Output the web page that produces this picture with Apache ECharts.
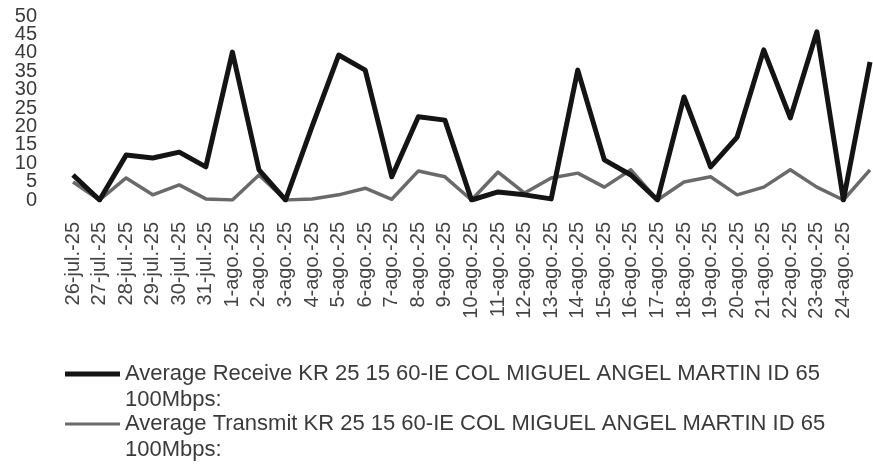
<!DOCTYPE html>
<html>
<head>
<meta charset="utf-8">
<title>Average Receive / Transmit</title>
<script src="https://cdn.jsdelivr.net/npm/echarts@6/dist/echarts.min.js"></script>
<style>
  html, body { margin: 0; padding: 0; background: #fff; }
  #chart { width: 873px; height: 473px; }
</style>
</head>
<body>
<div id="chart"></div>
<script>
// Daily dates (the last sample has no printed label)
const categories = [
  '26-jul.-25', '27-jul.-25', '28-jul.-25', '29-jul.-25', '30-jul.-25', '31-jul.-25',
  '1-ago.-25', '2-ago.-25', '3-ago.-25', '4-ago.-25', '5-ago.-25', '6-ago.-25',
  '7-ago.-25', '8-ago.-25', '9-ago.-25', '10-ago.-25', '11-ago.-25', '12-ago.-25',
  '13-ago.-25', '14-ago.-25', '15-ago.-25', '16-ago.-25', '17-ago.-25', '18-ago.-25',
  '19-ago.-25', '20-ago.-25', '21-ago.-25', '22-ago.-25', '23-ago.-25', '24-ago.-25',
  '25-ago.-25'
];

const receiveName = 'Average Receive KR 25 15 60-IE COL MIGUEL ANGEL MARTIN ID 65 100Mbps:';
const transmitName = 'Average Transmit KR 25 15 60-IE COL MIGUEL ANGEL MARTIN ID 65 100Mbps:';

const receiveValues = [
  6.8, 0, 12.2, 11.4, 13.0, 9.0, 40.2, 8.2, 0, 20, 39.4, 35.3, 6.3, 22.6, 21.7, 0,
  2.2, 1.4, 0.3, 35.3, 10.9, 6.8, 0, 28, 9, 17.1, 40.8, 22.3, 45.7, 0, 37.5
];

const transmitValues = [
  4.9, 0, 6.0, 1.4, 4.1, 0.3, 0, 6.8, 0, 0.3, 1.4, 3.2, 0.2, 7.9, 6.3, 0,
  7.6, 1.9, 6.0, 7.3, 3.5, 8.2, 0, 4.9, 6.3, 1.4, 3.5, 8.2, 3.5, 0, 8.2
];

const yTicks = { min: 0, max: 50, step: 5 };

const FONT = '"Liberation Sans", Arial, sans-serif';
const lastLabelIndex = categories.length - 2;

const chart = echarts.init(document.getElementById('chart'), null, { renderer: 'canvas' });

// Each legend entry wraps onto two lines; an empty leading line keeps the
// first line of text level with the legend swatch.
function legendFor(name, top, iconHeight) {
  return {
    data: [name],
    orient: 'vertical',
    left: 65,
    top: top,
    padding: 0,
    icon: 'rect',
    itemWidth: 55,
    itemHeight: iconHeight,
    selectedMode: false,
    formatter: n => '\u00a0\n' + n.replace(' 100Mbps:', '\n100Mbps:'),
    textStyle: {
      fontFamily: FONT,
      fontSize: 22,
      color: '#3a3a3a',
      lineHeight: 26
    }
  };
}

// The value labels are packed tightly; two identical scales share the grid,
// one printing the multiples of 10 and the other the odd fives, so none of
// them gets dropped by the overlap check.
function valueAxis(showTens) {
  return {
    type: 'value',
    position: 'left',
    min: yTicks.min,
    max: yTicks.max,
    interval: yTicks.step,
    axisLine: { show: false },
    axisTick: { show: false },
    splitLine: { show: false },
    axisLabel: {
      margin: 36,
      showMinLabel: true,
      showMaxLabel: true,
      hideOverlap: false,
      formatter: v => ((v % (2 * yTicks.step) === 0) === showTens ? String(v) : ''),
      fontFamily: FONT,
      fontSize: 20,
      color: '#3a3a3a'
    }
  };
}

chart.setOption({
  animation: false,
  backgroundColor: '#ffffff',
  grid: { left: 73, right: 3, top: 16, bottom: 273, containLabel: false },
  xAxis: {
    type: 'category',
    data: categories,
    boundaryGap: false,
    axisLine: { show: false },
    axisTick: { show: false },
    splitLine: { show: false },
    axisLabel: {
      rotate: 90,
      margin: 22,
      interval: (i) => i <= lastLabelIndex,
      fontFamily: FONT,
      fontSize: 20,
      color: '#444'
    }
  },
  yAxis: [valueAxis(true), valueAxis(false)],
  legend: [
    legendFor(receiveName, 335, 5),
    legendFor(transmitName, 385, 3)
  ],
  series: [
    {
      name: transmitName,
      type: 'line',
      yAxisIndex: 0,
      data: transmitValues,
      showSymbol: false,
      symbol: 'none',
      color: '#6a6a6a',
      lineStyle: { width: 3.5, color: '#6a6a6a', join: 'round' },
      z: 2
    },
    {
      name: receiveName,
      type: 'line',
      yAxisIndex: 0,
      data: receiveValues,
      showSymbol: false,
      symbol: 'none',
      color: '#141414',
      lineStyle: { width: 5, color: '#141414', join: 'round' },
      z: 3
    }
  ]
});
</script>
</body>
</html>
